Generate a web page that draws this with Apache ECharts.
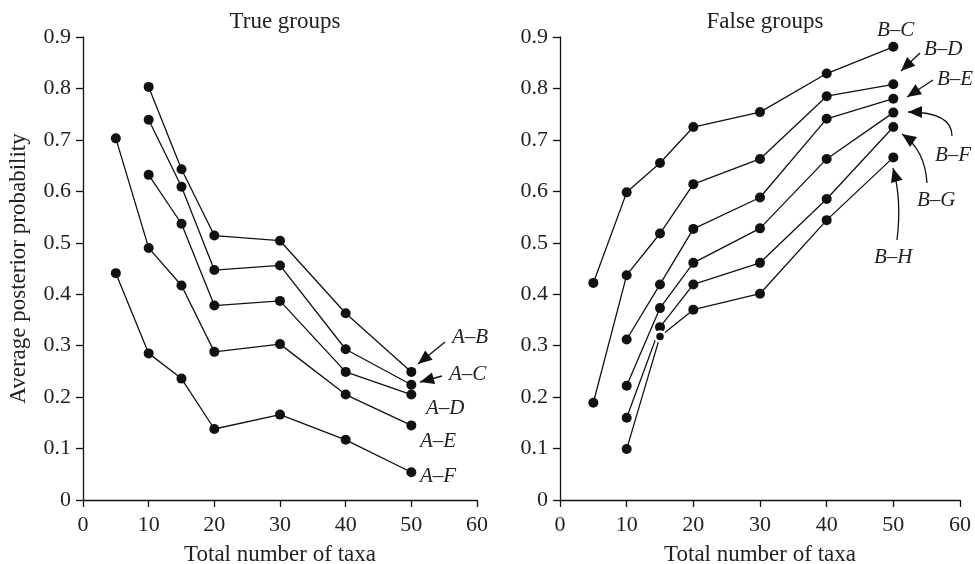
<!DOCTYPE html>
<html>
<head>
    <meta charset="utf-8">
    <script src="https://cdn.jsdelivr.net/npm/echarts@6/dist/echarts.min.js"></script>
    <style>
        html, body { margin: 0; padding: 0; background: #fff; }
        #main { width: 975px; height: 564px; }
    </style>
</head>

<body>
    <div id="main"></div>

    <script type="text/javascript">
        // x values (total number of taxa), null = no point at that size
        var taxa = [5, 10, 15, 20, 30, 40, 50];

        // True groups
        var trueAB = [null, 0.803, 0.643, 0.514, 0.504, 0.363, 0.249];
        var trueAC = [null, 0.739, 0.609, 0.447, 0.456, 0.293, 0.224];
        var trueAD = [null, 0.632, 0.537, 0.378, 0.387, 0.249, 0.205];
        var trueAE = [0.703, 0.490, 0.417, 0.288, 0.303, 0.205, 0.145];
        var trueAF = [0.441, 0.285, 0.236, 0.138, 0.166, 0.117, 0.054];

        // False groups
        var falseBC = [0.422, 0.598, 0.655, 0.725, 0.754, 0.829, 0.881];
        var falseBD = [0.189, 0.437, 0.518, 0.614, 0.663, 0.785, 0.808];
        var falseBE = [null, 0.312, 0.419, 0.527, 0.588, 0.741, 0.780];
        var falseBF = [null, 0.222, 0.373, 0.461, 0.528, 0.663, 0.753];
        var falseBG = [null, 0.160, 0.336, 0.419, 0.461, 0.585, 0.725];
        var falseBH = [null, 0.099, 0.318, 0.370, 0.401, 0.544, 0.666];

        var FONT = '"Liberation Serif", "DejaVu Serif", serif';
        var TICK_SIZE = 22;
        var NAME_SIZE = 23;

        function pairs(vals) {
            var out = [];
            for (var i = 0; i < taxa.length; i++) {
                if (vals[i] !== null) out.push([taxa[i], vals[i]]);
            }
            return out;
        }

        function makeSeries(name, vals, idx) {
            return {
                name: name,
                type: 'line',
                xAxisIndex: idx,
                yAxisIndex: idx,
                data: pairs(vals),
                symbol: 'circle',
                symbolSize: 10,
                lineStyle: { color: '#111', width: 1.3 },
                itemStyle: { color: '#111' },
                animation: false
            };
        }

        function xAxisOpt(idx) {
            return {
                gridIndex: idx,
                type: 'value',
                min: 0, max: 60, interval: 10,
                name: 'Total number of taxa',
                nameLocation: 'middle',
                nameGap: 43,
                nameTextStyle: { fontFamily: FONT, fontSize: NAME_SIZE, color: '#222' },
                axisLine: { lineStyle: { color: '#111', width: 1.3 } },
                axisTick: { inside: false, length: 7, lineStyle: { color: '#111', width: 1.3 } },
                axisLabel: { fontFamily: FONT, fontSize: TICK_SIZE, color: '#222', margin: 14 },
                splitLine: { show: false }
            };
        }

        function yAxisOpt(idx, withName) {
            return {
                gridIndex: idx,
                type: 'value',
                min: 0, max: 0.9, interval: 0.1,
                name: withName ? 'Average posterior probability' : '',
                nameLocation: 'middle',
                nameGap: 53,
                nameTextStyle: { fontFamily: FONT, fontSize: NAME_SIZE, color: '#222' },
                axisLine: { show: true, lineStyle: { color: '#111', width: 1.3 } },
                axisTick: { show: true, length: 7, lineStyle: { color: '#111', width: 1.3 } },
                axisLabel: {
                    fontFamily: FONT, fontSize: TICK_SIZE, color: '#222', margin: 12,
                    formatter: function (v) { return v === 0 ? '0' : v.toFixed(1); }
                },
                splitLine: { show: false }
            };
        }

        // arrow helpers for the annotation graphics
        function arrowHead(tipX, tipY, fromX, fromY) {
            var dx = tipX - fromX, dy = tipY - fromY;
            var len = Math.sqrt(dx * dx + dy * dy);
            var ux = dx / len, uy = dy / len;
            var L = 14, W = 6;
            var bx = tipX - ux * L, by = tipY - uy * L;
            return {
                type: 'polygon',
                shape: { points: [[tipX, tipY], [bx - uy * W, by + ux * W], [bx + uy * W, by - ux * W]] },
                style: { fill: '#111' }
            };
        }

        function straightArrow(x1, y1, x2, y2) {
            return [
                { type: 'line', shape: { x1: x1, y1: y1, x2: x2, y2: y2 }, style: { stroke: '#111', lineWidth: 1.3 } },
                arrowHead(x2, y2, x1, y1)
            ];
        }

        function curvedArrow(x1, y1, cx, cy, x2, y2) {
            return [
                { type: 'bezierCurve', shape: { x1: x1, y1: y1, cpx1: cx, cpy1: cy, x2: x2, y2: y2 }, style: { stroke: '#111', lineWidth: 1.3, fill: null } },
                arrowHead(x2, y2, cx, cy)
            ];
        }

        function label(text, x, y) {
            return {
                type: 'text',
                x: x, y: y,
                style: { text: text, fontFamily: FONT, fontSize: 21, fontStyle: 'italic', fill: '#222', verticalAlign: 'middle' }
            };
        }

        var graphics = [
            label('A–B', 452, 337),
            label('A–C', 449, 374),
            label('A–D', 426, 408),
            label('A–E', 420, 441),
            label('A–F', 420, 476),
            label('B–C', 877, 30),
            label('B–D', 924, 49),
            label('B–E', 937, 79),
            label('B–F', 935, 155),
            label('B–G', 917, 200),
            label('B–H', 874, 257)
        ]
            .concat(straightArrow(445, 342, 418, 364))
            .concat(straightArrow(442, 376, 420, 382))
            .concat(straightArrow(920, 53, 901, 71))
            .concat(straightArrow(933, 80, 907, 97))
            .concat(curvedArrow(952, 136, 952, 112, 908, 112))
            .concat(curvedArrow(927, 183, 925, 150, 902, 134))
            .concat(curvedArrow(897, 240, 902, 200, 893, 168));

        var seriesList = [
            makeSeries('A–B', trueAB, 0),
            makeSeries('A–C', trueAC, 0),
            makeSeries('A–D', trueAD, 0),
            makeSeries('A–E', trueAE, 0),
            makeSeries('A–F', trueAF, 0),
            makeSeries('B–C', falseBC, 1),
            makeSeries('B–D', falseBD, 1),
            makeSeries('B–E', falseBE, 1),
            makeSeries('B–F', falseBF, 1),
            makeSeries('B–G', falseBG, 1),
            makeSeries('B–H', falseBH, 1)
        ];
        // the B–H point at 15 taxa sits on top of B–G with a white halo
        var bh = seriesList[10].data;
        bh[1] = { value: bh[1], symbolSize: 10, itemStyle: { borderColor: '#fff', borderWidth: 2.5 } };

        var myChart = echarts.init(document.getElementById('main'), null, { renderer: 'canvas' });
        myChart.setOption({
            backgroundColor: '#fff',
            animation: false,
            title: [
                { text: 'True groups', left: 280, top: 5, textAlign: 'center', textStyle: { fontFamily: FONT, fontSize: NAME_SIZE, fontWeight: 'normal', color: '#222' } },
                { text: 'False groups', left: 760, top: 5, textAlign: 'center', textStyle: { fontFamily: FONT, fontSize: NAME_SIZE, fontWeight: 'normal', color: '#222' } }
            ],
            grid: [
                { left: 83, top: 37, width: 394, height: 463, outerBoundsMode: 'none', containLabel: false },
                { left: 560, top: 37, width: 400, height: 463, outerBoundsMode: 'none', containLabel: false }
            ],
            xAxis: [xAxisOpt(0), xAxisOpt(1)],
            yAxis: [yAxisOpt(0, true), yAxisOpt(1, false)],
            series: seriesList,
            graphic: graphics
        });
    </script>
</body>

</html>
